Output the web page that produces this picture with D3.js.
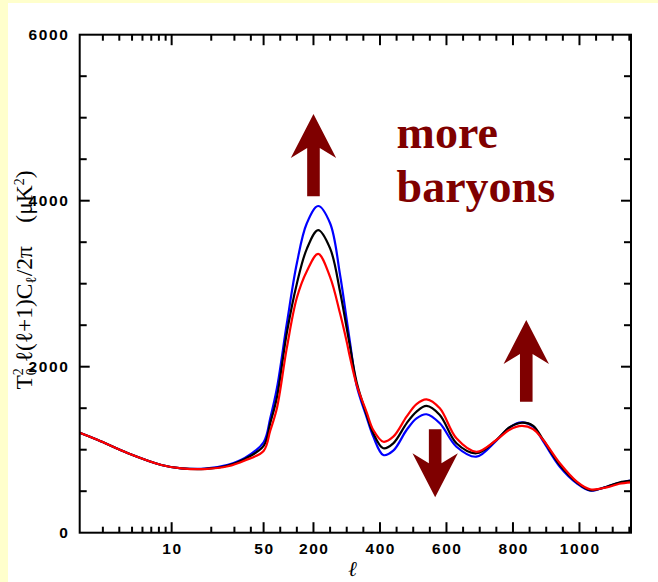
<!DOCTYPE html>
<html><head><meta charset="utf-8">
<script src="https://cdn.jsdelivr.net/npm/d3@7"></script>
<style>
html,body{margin:0;padding:0;background:#ffffcc;}
svg{display:block;}
</style></head>
<body>
<svg id="chart" width="658" height="582"></svg>
<script>
// ---- data ----
const ells = [2, 2.75, 4.66, 8.35, 11.86, 17.9, 26.8, 36, 50, 70, 90, 120, 150, 180, 214, 250, 280, 300, 310, 330, 360, 380, 410, 440, 480, 510, 540, 580, 630, 690, 750, 790, 826, 860, 891, 941, 992, 1032, 1082, 1120, 1155];
const blueVals  = [1205, 1117, 957, 816, 776, 772, 818, 900, 1090, 1380, 1740, 2523, 3246, 3728, 3936, 3728, 3105, 2563, 2290, 1770, 1390, 1157, 936, 988, 1237, 1378, 1427, 1318, 1036, 916, 1110, 1270, 1330, 1280, 1100, 795, 595, 506, 554, 600, 627];
const blackVals = [1205, 1117, 957, 816, 776, 769, 810, 888, 1045, 1320, 1630, 2410, 3000, 3420, 3646, 3426, 2904, 2463, 2240, 1810, 1420, 1197, 1017, 1077, 1318, 1458, 1527, 1418, 1077, 957, 1117, 1270, 1325, 1290, 1117, 815, 605, 512, 554, 605, 627];
const redVals   = [1205, 1117, 957, 816, 776, 767, 800, 870, 985, 1230, 1500, 2230, 2830, 3150, 3360, 3080, 2640, 2300, 2110, 1780, 1450, 1237, 1096, 1157, 1398, 1550, 1607, 1499, 1137, 975, 1117, 1240, 1286, 1250, 1117, 836, 615, 523, 546, 590, 607];
const seriesColors = ["#0000ff", "#000000", "#ff0000"];
const xTickLabels = [10, 50, 200, 400, 600, 800, 1000];
const xMinorLog = [3,4,5,6,7,8,9,20,30,40];
const yTickLabels = [0, 2000, 4000, 6000];
const annotText = ["more", "baryons"];
// arrows: [ell, tail value, tip value]
const arrowsData = [[200, 4055, 5045], [840, 1578, 2563], [566, 1246, 427]];

// ---- layout ----
const svg = d3.select("#chart");
svg.append("rect").attr("x", 8).attr("y", 3).attr("width", 650).attr("height", 579).attr("fill", "#ffffff");

const X0 = 79.7, X1 = 631, Y0 = 532.7, Y1 = 34.7;
const XB = X0 + (X1 - X0) * 183.9 / 551.3;
const xLog = d3.scaleLog().domain([2, 50]).range([X0, XB]);
const xLin = d3.scaleLinear().domain([50, 1155]).range([XB, X1]);
const x = l => l <= 50 ? xLog(l) : xLin(l);
const y = d3.scaleLinear().domain([0, 6000]).range([Y0, Y1]);

// curves
const series = [blueVals, blackVals, redVals];
const line = d3.line().x(d => x(d[0])).y(d => y(d[1])).curve(d3.curveCatmullRom.alpha(0.5));
const gCurves = svg.append("g");
series.forEach((vals, i) => {
  gCurves.append("path")
    .datum(ells.map((l, k) => [l, vals[k]]))
    .attr("d", line)
    .attr("fill", "none")
    .attr("stroke", seriesColors[i])
    .attr("stroke-width", 2.2);
});

// frame
const gAx = svg.append("g").attr("stroke", "#000").attr("stroke-width", 2);
gAx.append("rect").attr("x", X0).attr("y", Y1).attr("width", X1 - X0).attr("height", Y0 - Y1).attr("fill", "none");

// x ticks
const linMinor = d3.range(100, 1155, 50).filter(v => !xTickLabels.includes(v));
const xTicks = xTickLabels.map(v => [v, 10.5]).concat(xMinorLog.map(v => [v, 6])).concat(linMinor.map(v => [v, 6]));
xTicks.forEach(([v, len]) => {
  const px = x(v);
  gAx.append("line").attr("x1", px).attr("x2", px).attr("y1", Y0).attr("y2", Y0 - len);
  gAx.append("line").attr("x1", px).attr("x2", px).attr("y1", Y1).attr("y2", Y1 + len);
});
// y ticks
d3.range(500, 6000, 500).forEach(v => {
  const len = (v % 2000 === 0) ? 10 : 7;
  const py = y(v);
  gAx.append("line").attr("x1", X0).attr("x2", X0 + len).attr("y1", py).attr("y2", py);
  gAx.append("line").attr("x1", X1).attr("x2", X1 - len).attr("y1", py).attr("y2", py);
});

// tick labels
const lblStyle = s => s.attr("font-family", "Liberation Sans, Arial, sans-serif").attr("font-weight", "bold")
  .attr("font-size", 15.5).attr("letter-spacing", "1.6px").attr("fill", "#000");
svg.append("g").selectAll("text").data(xTickLabels).join("text")
  .call(lblStyle).attr("x", d => x(d) + 0.8).attr("y", 554).attr("text-anchor", "middle").text(d => d);
svg.append("g").selectAll("text").data(yTickLabels).join("text")
  .call(lblStyle).attr("x", 69.5).attr("y", d => y(d) + 5.5).attr("text-anchor", "end").text(d => d);

// y-axis title
const yt = svg.append("text").attr("transform", "translate(32,280) rotate(-90)")
  .attr("text-anchor", "middle").attr("font-family", "Liberation Serif, DejaVu Serif, serif")
  .attr("font-size", 23.5).attr("fill", "#000");
yt.append("tspan").text("T");
yt.append("tspan").attr("font-size", 14).attr("dy", -9).text("2");
yt.append("tspan").attr("font-size", 14).attr("dx", -7).attr("dy", 13).text("0");
yt.append("tspan").attr("dy", -4).text(" ℓ(ℓ+1)C");
yt.append("tspan").attr("font-size", 15).attr("dy", 4).text("ℓ");
yt.append("tspan").attr("dy", -4).text("/2π\u00a0\u00a0\u00a0\u00a0(μK");
yt.append("tspan").attr("font-size", 14).attr("dy", -8).text("2");
yt.append("tspan").attr("dy", 8).text(")");

// x-axis title
svg.append("text").attr("x", 353).attr("y", 576).attr("text-anchor", "middle")
  .attr("font-family", "Liberation Serif, DejaVu Serif, serif").attr("font-style", "italic")
  .attr("font-size", 21).attr("font-weight", "bold").text("ℓ");

// annotation arrows
const maroon = "#7f0000";
arrowsData.forEach(([l, v0, v1]) => {
  const cx = x(l), yTail = y(v0), yTip = y(v1);
  const dir = yTip < yTail ? 1 : -1; // 1 = up
  const hw = 22.7, sw = 6.3, barb = 44, notch = 34;
  const pts = [
    [cx, yTip],
    [cx + hw, yTip + dir * barb],
    [cx + sw, yTip + dir * notch],
    [cx + sw, yTail],
    [cx - sw, yTail],
    [cx - sw, yTip + dir * notch],
    [cx - hw, yTip + dir * barb]
  ];
  svg.append("path").attr("d", "M" + pts.map(p => p.join(",")).join("L") + "Z").attr("fill", maroon);
});

// annotation text
svg.append("g").selectAll("text").data(annotText).join("text")
  .attr("x", x(450)).attr("y", (d, i) => 148 + i * 54)
  .attr("font-family", "Liberation Serif, Times New Roman, serif").attr("font-weight", "bold")
  .attr("font-size", 46).attr("fill", maroon).text(d => d);
</script>
</body></html>
